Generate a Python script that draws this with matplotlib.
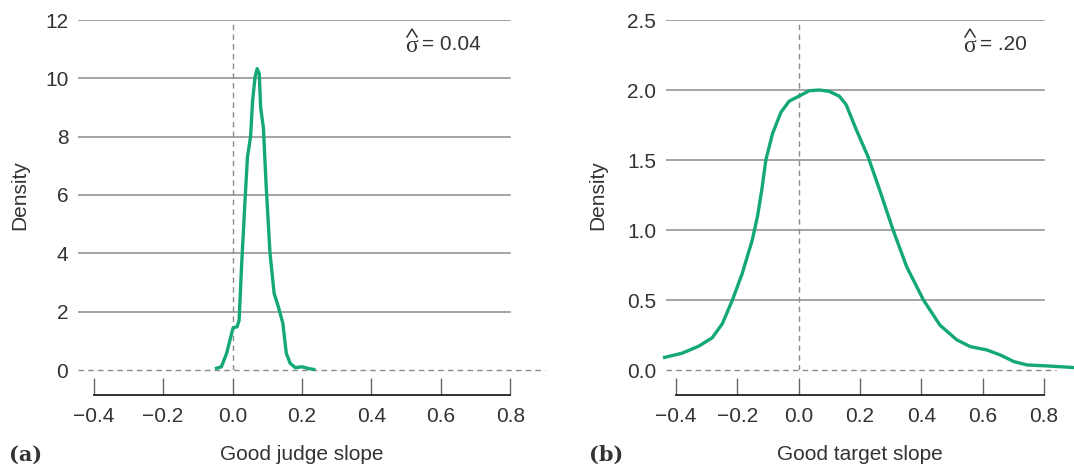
import matplotlib.pyplot as plt
from matplotlib.lines import Line2D

plt.rcParams['font.family'] = ['Liberation Sans', 'DejaVu Sans']

# left panel: good judge slope density
judge_x = [-0.046, -0.032, -0.017, 0.0, 0.002, 0.013, 0.019, 0.026, 0.036, 0.043,
           0.052, 0.058, 0.065, 0.071, 0.077, 0.081, 0.089, 0.097, 0.108, 0.12,
           0.132, 0.145, 0.155, 0.166, 0.181, 0.2, 0.219, 0.234]
judge_y = [0.06, 0.11, 0.57, 1.37, 1.45, 1.48, 1.7, 3.54, 5.8, 7.3,
           8.0, 9.25, 10.05, 10.33, 10.16, 9.0, 8.3, 6.3, 4.0, 2.62,
           2.17, 1.6, 0.57, 0.23, 0.08, 0.11, 0.05, 0.02]

# right panel: good target slope density
target_x = [-0.437, -0.38, -0.326, -0.282, -0.249, -0.216, -0.184, -0.151, -0.134, -0.12,
            -0.107, -0.085, -0.058, -0.031, 0.0, 0.035, 0.068, 0.1, 0.133, 0.155,
            0.188, 0.226, 0.264, 0.308, 0.352, 0.407, 0.461, 0.516, 0.56, 0.614,
            0.658, 0.702, 0.745, 0.811, 0.9]
target_y = [0.09, 0.12, 0.17, 0.23, 0.33, 0.50, 0.69, 0.93, 1.10, 1.29,
            1.50, 1.69, 1.84, 1.92, 1.955, 1.995, 2.0, 1.99, 1.955, 1.895,
            1.716, 1.525, 1.287, 1.0, 0.739, 0.50, 0.32, 0.215, 0.167, 0.143,
            0.107, 0.06, 0.036, 0.029, 0.017]

x_ticks = [-0.4, -0.2, 0.0, 0.2, 0.4, 0.6, 0.8]
x_labels = ['\u22120.4', '\u22120.2', '0.0', '0.2', '0.4', '0.6', '0.8']
green = '#13a876'
txt = '#333333'
W, H = 1074, 468

fig = plt.figure(figsize=(W / 100, H / 100), dpi=100)


def fx(px):
    return px / W


def fy(py):
    return 1 - py / H


def panel(px0, px1, xlim, ylim, yticks, ylabels, x, y, sigma_val, sigma_px,
          letter, letter_px, xlabel, xlabel_px, dash_end, ylab_px):
    ax = fig.add_axes([fx(px0), fy(370), (px1 - px0) / W, 350 / H])
    ax.set_xlim(xlim)
    ax.set_ylim(ylim)
    for v in yticks[1:]:
        ax.plot([xlim[0], 0.8], [v, v], color='#8c8c8c', lw=1.1, zorder=1)
    ax.plot([xlim[0], dash_end], [0, 0], color='#8c8c8c', lw=1.0, ls=(0, (4, 3)),
            zorder=1, clip_on=False)
    ax.plot([0, 0], [0, ylim[1] * 0.99], color='#8c8c8c', lw=1.0, ls=(0, (4, 3)), zorder=1)
    ax.plot(x, y, color=green, lw=2.4, zorder=3, clip_on=False)
    for s in ['top', 'right', 'left']:
        ax.spines[s].set_visible(False)
    ax.spines['bottom'].set_position(('outward', 18))
    ax.spines['bottom'].set_bounds(-0.4, 0.8)
    ax.spines['bottom'].set_linewidth(1.3)
    ax.spines['bottom'].set_color('#222222')
    ax.set_xticks(x_ticks)
    ax.set_xticklabels(x_labels)
    ax.tick_params(axis='x', direction='in', length=12, width=1.0, color='#666666',
                   labelsize=15, pad=9, labelcolor=txt)
    ax.set_yticks(yticks)
    ax.set_yticklabels(ylabels)
    ax.tick_params(axis='y', length=0, labelsize=15, pad=7, labelcolor=txt)

    # sigma-hat annotation: sigma glyph with a drawn caret above it
    sx, sy = sigma_px
    fig.text(fx(sx), fy(sy + 4), '\u03c3', family='Liberation Serif', fontsize=17,
             color=txt, ha='left', va='center')
    fig.add_artist(Line2D([fx(sx + 2), fx(sx + 7), fx(sx + 12)],
                          [fy(sy - 6), fy(sy - 14), fy(sy - 6)],
                          transform=fig.transFigure, color=txt, lw=1.1))
    fig.text(fx(sx + 17), fy(sy + 2), '= ' + sigma_val, fontsize=15,
             color=txt, ha='left', va='center')

    fig.text(fx(ylab_px), fy(195), 'Density', rotation=90, fontsize=15,
             color=txt, ha='center', va='center')
    fig.text(fx(letter_px), fy(455), letter, family='DejaVu Serif', weight='bold',
             fontsize=15, color=txt, ha='left', va='center')
    fig.text(fx(xlabel_px), fy(454), xlabel, fontsize=15, color=txt,
             ha='center', va='center')
    return ax


ax1 = panel(78, 545, (-0.445, 0.9), (0, 12), [0, 2, 4, 6, 8, 10, 12],
            ['0', '2', '4', '6', '8', '10', '12'], judge_x, judge_y,
            '0.04', (405, 43), '(a)', 9, 'Good judge slope', 302, 0.9, 20)

ax2 = panel(666, 1074, (-0.4326, 0.898), (0, 2.5), [0, 0.5, 1.0, 1.5, 2.0, 2.5],
            ['0.0', '0.5', '1.0', '1.5', '2.0', '2.5'], target_x, target_y,
            '.20', (963, 43), '(b)', 589, 'Good target slope', 860, 0.84, 598)

fig.savefig('out.png', dpi=100)
